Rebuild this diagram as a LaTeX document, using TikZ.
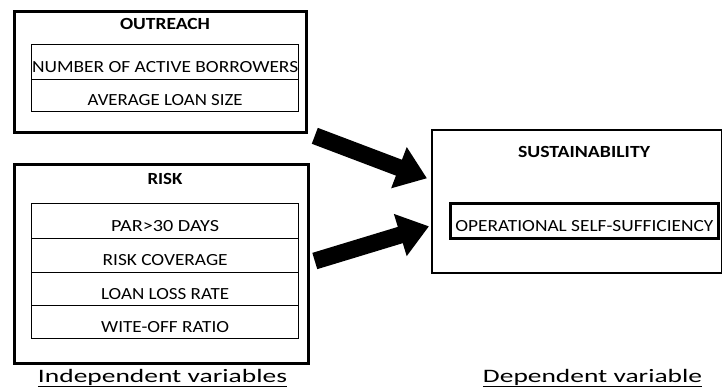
\documentclass[tikz,border=0pt]{standalone}
\usepackage{fontspec}
\usepackage{graphicx}
\setmainfont{Carlito}
\usetikzlibrary{arrows.meta,calc}
\newcommand\fitwd[2]{\resizebox{#1}{\height}{#2}}
\tikzset{
  outerbox/.style={draw, line width=2.8pt, anchor=north west, inner sep=0pt},
  rowbox/.style={draw, line width=1.3pt, anchor=north west, inner sep=0pt, text height=20pt, text depth=0pt, font=\fontsize{17}{19}\selectfont},
  title/.style={font=\bfseries\fontsize{17}{19}\selectfont, inner sep=0pt},
  caption/.style={font=\fontsize{19}{21}\selectfont, inner sep=0pt, anchor=base},
  bigarrow/.style={line width=17pt, -{Triangle[length=30pt,width=42pt]}},
}
\begin{document}
\begin{tikzpicture}[x=1pt,y=-1pt]
\useasboundingbox (0,0) rectangle (722,389);
% outreach
\node[outerbox, minimum width=292pt, minimum height=121pt] (out) at (13,10) {};
\node[title] (outt) at (165,24) {\fitwd{90pt}{OUTREACH}};
\node[rowbox, minimum width=267pt, minimum height=35pt] (o1) at (31,44) {\fitwd{266pt}{NUMBER OF ACTIVE BORROWERS}};
\node[rowbox, minimum width=267pt, minimum height=32pt] (o2) at (31,79) {\fitwd{155pt}{AVERAGE LOAN SIZE}};
% risk
\node[outerbox, minimum width=294pt, minimum height=199pt] (risk) at (13,163) {};
\node[title] (riskt) at (165,179) {\fitwd{35pt}{RISK}};
\node[rowbox, minimum width=267pt, minimum height=35pt] (r1) at (31,203) {\fitwd{108pt}{PAR>30 DAYS}};
\node[rowbox, minimum width=267pt, minimum height=34pt] (r2) at (31,238) {\fitwd{125pt}{RISK COVERAGE}};
\node[rowbox, minimum width=267pt, minimum height=33pt] (r3) at (31,272) {\fitwd{128pt}{LOAN LOSS RATE}};
\node[rowbox, minimum width=267pt, minimum height=33pt] (r4) at (31,305) {\fitwd{128pt}{WITE-OFF RATIO}};
% sustainability
\node[draw, line width=1.6pt, anchor=north west, inner sep=0pt, minimum width=290pt, minimum height=143pt] (sus) at (431,129) {};
\node[title] (sust) at (584,152) {\fitwd{132pt}{SUSTAINABILITY}};
\node[rowbox, line width=2.8pt, minimum width=268pt, minimum height=35pt, text height=22pt] (oss) at (449,202) {\fitwd{258pt}{OPERATIONAL SELF-SUFFICIENCY}};
% arrows
\coordinate (a1s) at ($(out.south east)+(7,2)$);
\coordinate (a1e) at ($(sus.west)+(-4,-23)$);
\coordinate (a2s) at ($(risk.north east)+(5,98)$);
\coordinate (a2e) at ($(sus.west)+(-2,25)$);
\draw[bigarrow] (a1s) -- (a1e);
\draw[bigarrow] (a2s) -- (a2e);
% captions
\node[caption] (ind) at (162.5,382) {\fitwd{249pt}{\underline{Independent variables}}};
\node[caption] (dep) at (592.5,382) {\fitwd{219pt}{\underline{Dependent variable}}};
\end{tikzpicture}
\end{document}
